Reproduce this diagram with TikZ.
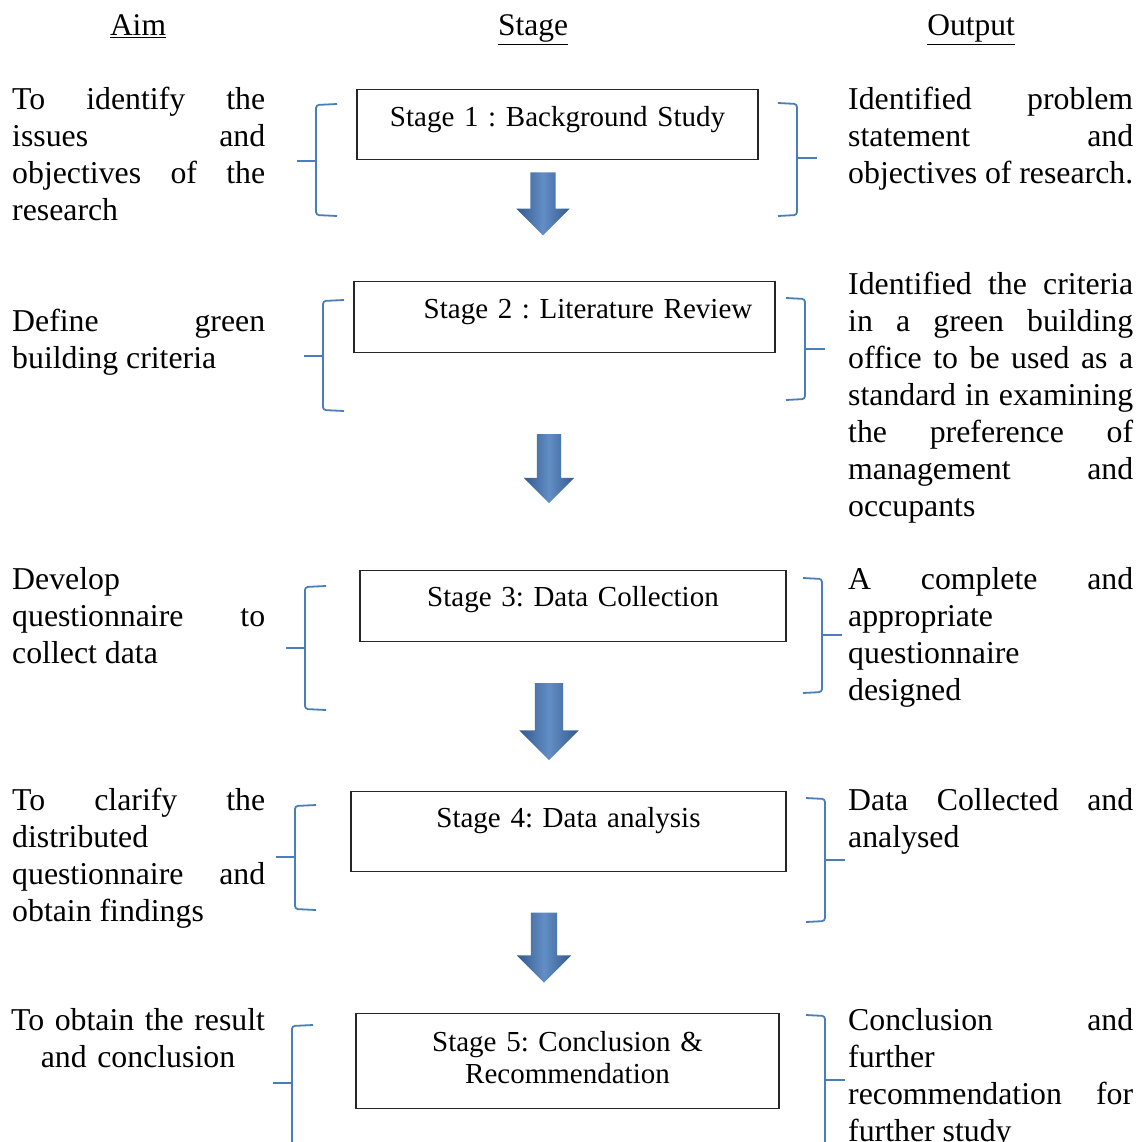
\documentclass[tikz,border=0pt]{standalone}
\usepackage{fontspec}
\setmainfont{Liberation Serif}
\usetikzlibrary{shapes.arrows}

\definecolor{arrowdark}{RGB}{52,90,140}
\definecolor{arrowlight}{RGB}{98,142,198}
\definecolor{bracketblue}{RGB}{74,126,187}

\frenchspacing
\tolerance=10000
\hbadness=10000
\hyphenpenalty=10000
\exhyphenpenalty=10000

\begin{document}
\begin{tikzpicture}[x=1pt,y=-1pt,
    heading/.style={anchor=base,inner sep=0pt,font=\fontsize{31.5}{37}\selectfont},
    aimtext/.style={anchor=base west,inner sep=0pt,text width=253pt,align=justify,
      font=\fontsize{31.8}{37}\selectfont},
    outtext/.style={aimtext,text width=285pt},
    stagebox/.style={draw=black!85,line width=1.4pt,anchor=north,inner sep=0pt,
      align=center,font=\fontsize{29}{32}\selectfont},
    stagearrow/.style={single arrow,rotate=-90,inner sep=0pt,draw=none,
      single arrow tip angle=90,left color=arrowdark,right color=arrowdark,
      middle color=arrowlight},
    bracket/.style={draw=bracketblue,line width=1.8pt,rounded corners=3pt}]

  \useasboundingbox[fill=white] (0,0) rectangle (1140,1142);

  % column headings
  \node[heading] (aimhead) at (138,36) {\underline{Aim}};
  \node[heading] (stagehead) at (533,36) {\underline{Stage}};
  \node[heading] (outhead) at (971,36) {\underline{Output}};

  % stages
  \node[stagebox,text width=401pt,text height=37pt,text depth=33pt] (stage1) at (557.5,89)
    {Stage 1 : Background Study};
  \node[stagebox,text width=421pt,text height=37pt,text depth=34pt] (stage2) at (564.5,281)
    {\hspace*{47pt}Stage 2 : Literature Review};
  \node[stagebox,text width=426pt,text height=36pt,text depth=35pt] (stage3) at (573,570)
    {Stage 3: Data Collection};
  \node[stagebox,text width=435pt,text height=36pt,text depth=44pt] (stage4) at (568.5,791)
    {Stage 4: Data analysis};
  \node[stagebox,text width=423pt,text height=38pt,text depth=57pt] (stage5) at (567.5,1013)
    {Stage 5: Conclusion \&\\ Recommendation};

  % block arrows
  \node[stagearrow,minimum height=63pt,text height=12.5pt,text depth=12.5pt,
    single arrow head extend=14pt] (arrow1) at (543,197.5) {};
  \node[stagearrow,minimum height=69pt,text height=12pt,text depth=12pt,
    single arrow head extend=13pt] (arrow2) at (549,462.5) {};
  \node[stagearrow,minimum height=77pt,text height=14pt,text depth=14pt,
    single arrow head extend=15.5pt] (arrow3) at (549,714.5) {};
  \node[stagearrow,minimum height=70pt,text height=13pt,text depth=13pt,
    single arrow head extend=14pt] (arrow4) at (544,941) {};

  % aims
  \node[aimtext] (aim1) at (12,110)
    {To identify the\linebreak issues and\linebreak objectives of the\linebreak research};
  \node[aimtext] (aim2) at (12,331)
    {Define green\linebreak building criteria};
  \node[aimtext] (aim3) at (12,589)
    {Develop\linebreak questionnaire to\linebreak collect data};
  \node[aimtext] (aim4) at (12,810)
    {To clarify the\linebreak distributed\linebreak questionnaire and\linebreak obtain findings};
  \node[aimtext,anchor=base,text width=290pt,align=center] (aim5) at (138,1030)
    {To obtain the result\\ and conclusion};

  % outputs
  \node[outtext] (out1) at (848,110)
    {Identified problem\linebreak statement and\linebreak objectives of research.};
  \node[outtext] (out2) at (848,294)
    {Identified the criteria\linebreak in a green building\linebreak office to be used as a\linebreak
     standard in examining\linebreak the preference of\linebreak management and\linebreak occupants};
  \node[outtext] (out3) at (848,589)
    {A complete and\linebreak appropriate\linebreak questionnaire\linebreak designed};
  \node[outtext] (out4) at (848,810)
    {Data Collected and\linebreak analysed};
  \node[outtext] (out5) at (848,1030)
    {Conclusion and\linebreak further\linebreak recommendation for\linebreak further study};

  % brackets on the left
  \foreach \x/\top/\bot/\mid in {316/104/216/161, 323/300/411/356, 305/586/710/648,
      295/805/910/857, 292/1025/1170/1083} {
    \draw[bracket] (\x+21,\top) -- (\x,\top+1) -- (\x,\bot-1) -- (\x+21,\bot);
    \draw[bracket] (\x,\mid) -- (\x-19,\mid);
  }

  % brackets on the right
  \foreach \x/\top/\bot/\mid in {797/103/216/158, 805/298/400/349, 822/578/693/635,
      825/798/922/860, 825/1015/1170/1080} {
    \draw[bracket] (\x-19,\top) -- (\x,\top+1) -- (\x,\bot-1) -- (\x-19,\bot);
    \draw[bracket] (\x,\mid) -- (\x+20,\mid);
  }
\end{tikzpicture}
\end{document}
